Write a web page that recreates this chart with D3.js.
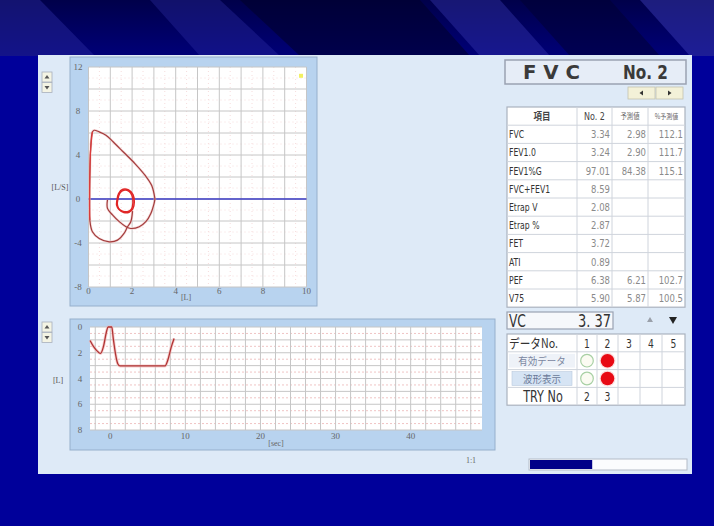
<!DOCTYPE html>
<html><head><meta charset="utf-8">
<script src="https://cdn.jsdelivr.net/npm/d3@7"></script>
<style>
html,body{margin:0;padding:0;background:#00009a;}
svg{display:block;}
</style></head><body>
<svg id="c" width="714" height="526"></svg>
<script>
// ---- flow–volume loop (volume in L, flow in L/s) ----
// maximal inspiration leading out of tidal breathing
const inspPreVolume = [2.02, 1.94, 1.79, 1.63, 1.33, 0.95, 0.49, 0.18, 0.06, 0.05, 0.05];
const inspPreFlow   = [-1.10, -2.06, -2.52, -3.13, -3.74, -3.89, -3.59, -2.98, -1.90, -0.80, 0.00];
// forced expiration
const expVolume = [0.05, 0.06, 0.10, 0.18, 0.26, 0.49, 0.80, 1.14, 1.60, 2.14, 2.60, 2.90, 3.05];
const expFlow   = [0.00, 2.00, 4.60, 6.10, 6.25, 6.10, 5.80, 5.18, 4.27, 3.20, 2.14, 1.22, 0.00];
// inspiration after the forced manoeuvre
const inspPostVolume = [3.05, 3.01, 2.86, 2.63, 2.33, 1.94, 1.72, 1.41, 1.10, 0.87, 0.87];
const inspPostFlow   = [0.00, -0.39, -1.31, -2.06, -2.52, -2.68, -2.52, -2.06, -1.45, -0.85, -0.08];
// tidal breathing loops
const tidal1Volume = [1.30, 1.38, 1.58, 1.84, 2.04, 2.10, 2.03, 1.86, 1.62, 1.40, 1.29, 1.30];
const tidal1Flow   = [-0.20, 0.50, 0.88, 0.82, 0.40, -0.30, -0.90, -1.20, -1.22, -0.95, -0.55, -0.20];
const tidal2Volume = [1.34, 1.44, 1.62, 1.86, 2.00, 2.04, 1.96, 1.78, 1.56, 1.38, 1.32, 1.34];
const tidal2Flow   = [-0.10, 0.55, 0.80, 0.70, 0.30, -0.35, -0.95, -1.15, -1.10, -0.85, -0.45, -0.10];

// ---- volume–time curve ----
const vtTime   = [-2.7, -2.2, -1.6, -1.3, -0.9, -0.5, -0.3, 0.2, 0.4, 0.7, 1.0, 1.3, 4.0, 7.3, 7.7, 8.1, 8.5];
const vtVolume = [1.05, 1.55, 1.95, 2.05, 1.50, 0.35, 0.00, 0.00, 0.90, 2.10, 2.85, 3.02, 3.02, 3.02, 2.50, 1.60, 0.90];

// ---- axis ticks ----
const fvFlowTicks = [12, 8, 4, 0, -4, -8];
const fvVolumeTicks = [0, 2, 4, 6, 8, 10];
const vtVolumeTicks = [0, 2, 4, 6, 8];
const vtTimeTicks = [0, 10, 20, 30, 40];

// ---- result table ----
const tableHeader = ["項目", "No. 2", "予測値", "%予測値"];
const rowLabels   = ["FVC", "FEV1.0", "FEV1%G", "FVC+FEV1", "Etrap V", "Etrap %", "FET", "ATI", "PEF", "V75"];
const measured    = ["3.34", "3.24", "97.01", "8.59", "2.08", "2.87", "3.72", "0.89", "6.38", "5.90"];
const predicted   = ["2.98", "2.90", "84.38", "", "", "", "", "", "6.21", "5.87"];
const percentPred = ["112.1", "111.7", "115.1", "", "", "", "", "", "102.7", "100.5"];
const vcLabel = "VC", vcValue = "3. 37";

// ---- trial selector ----
const trialNumbers = ["1", "2", "3", "4", "5"];
const trialValid   = [1, 2, 0, 0, 0];   // 1 = hollow, 2 = filled, 0 = none
const trialShown   = [1, 2, 0, 0, 0];
const trialTry     = ["2", "3", "", "", ""];
const progress = 0.4;

const svg = d3.select("#c");
const defs = svg.append("defs");

// ---------- slide background ----------
const gTop = defs.append("linearGradient").attr("id", "topg").attr("x1", 0).attr("y1", 0).attr("x2", 0).attr("y2", 1);
gTop.append("stop").attr("offset", 0).attr("stop-color", "#00004a");
gTop.append("stop").attr("offset", 1).attr("stop-color", "#000078");
svg.append("rect").attr("width", 714).attr("height", 526).attr("fill", "#00009a");
svg.append("rect").attr("width", 714).attr("height", 56).attr("fill", "url(#topg)");
const bands = [
  {pts: [[0,0],[40,0],[95,56],[0,56]], c: "#2a2aa0", o: 0.45},
  {pts: [[150,0],[220,0],[280,56],[200,56]], c: "#3030a8", o: 0.35},
  {pts: [[240,0],[420,0],[470,56],[300,56]], c: "#000028", o: 0.55},
  {pts: [[430,0],[500,0],[550,56],[480,56]], c: "#3a3ab4", o: 0.4},
  {pts: [[520,0],[610,0],[660,56],[570,56]], c: "#000030", o: 0.5},
  {pts: [[640,0],[714,0],[714,56],[690,56]], c: "#4040bc", o: 0.45}
];
svg.selectAll(".band").data(bands).join("path")
  .attr("d", d => "M" + d.pts.join("L") + "Z")
  .attr("fill", d => d.c).attr("opacity", d => d.o);

// ---------- application panel ----------
svg.append("rect").attr("x", 38).attr("y", 55).attr("width", 654).attr("height", 419)
  .attr("fill", "#deeaf7");

const tickFont = "'Liberation Serif','DejaVu Serif',serif";
const narrow = "'Liberation Sans Narrow','DejaVu Sans Condensed','Noto Sans CJK JP',sans-serif";
const jp = "'Noto Sans CJK JP',sans-serif";

// text squeezed horizontally, as drawn by the instrument's narrow font
function narrowText(g, x, y, str, opts) {
  const o = Object.assign({size: 10, fill: "#333", anchor: "start", sx: 0.85, family: narrow, weight: "normal"}, opts || {});
  return g.append("text").attr("transform", `translate(${x},${y}) scale(${o.sx},1)`)
    .attr("text-anchor", o.anchor).attr("font-family", o.family).attr("font-size", o.size)
    .attr("font-weight", o.weight).attr("fill", o.fill).text(str);
}

function spinButtons(x, y) {
  const g = svg.append("g");
  [0, 1].forEach(i => {
    g.append("rect").attr("x", x).attr("y", y + i * 10.5).attr("width", 10).attr("height", 10)
      .attr("fill", "#f4f4e4").attr("stroke", "#a8b0bc").attr("stroke-width", 0.8);
  });
  g.append("path").attr("d", `M${x+5},${y+3}L${x+7.5},${y+6.5}L${x+2.5},${y+6.5}Z`).attr("fill", "#555");
  g.append("path").attr("d", `M${x+5},${y+17.5}L${x+7.5},${y+14}L${x+2.5},${y+14}Z`).attr("fill", "#555");
}

// ---------- flow–volume chart ----------
const xV = d3.scaleLinear().domain([0, 10]).range([88.5, 306.5]);
const yF = d3.scaleLinear().domain([-8, 12]).range([287, 67]);

svg.append("rect").attr("x", 70).attr("y", 57).attr("width", 247).attr("height", 249)
  .attr("fill", "#b8d3ef").attr("stroke", "#96afcc").attr("stroke-width", 1);
svg.append("rect").attr("x", xV(0)).attr("y", yF(12)).attr("width", xV(10) - xV(0)).attr("height", yF(-8) - yF(12))
  .attr("fill", "#ffffff");

const fvGrid = svg.append("g");
fvGrid.selectAll(".mvx").data(d3.range(0.5, 10, 1)).join("line")
  .attr("x1", d => xV(d)).attr("x2", d => xV(d)).attr("y1", yF(12)).attr("y2", yF(-8))
  .attr("stroke", "#f6dcdc").attr("stroke-dasharray", "1,3");
fvGrid.selectAll(".mhy").data(d3.range(-7, 12, 2)).join("line")
  .attr("y1", d => yF(d)).attr("y2", d => yF(d)).attr("x1", xV(0)).attr("x2", xV(10))
  .attr("stroke", "#f6dcdc").attr("stroke-dasharray", "1,3");
fvGrid.selectAll(".vx").data(d3.range(0, 11, 1)).join("line")
  .attr("x1", d => xV(d)).attr("x2", d => xV(d)).attr("y1", yF(12)).attr("y2", yF(-8))
  .attr("stroke", "#c6c6c6");
fvGrid.selectAll(".hy").data(d3.range(-8, 13, 2)).join("line")
  .attr("y1", d => yF(d)).attr("y2", d => yF(d)).attr("x1", xV(0)).attr("x2", xV(10))
  .attr("stroke", "#c6c6c6");

// zero-flow baseline
svg.append("line").attr("x1", xV(0)).attr("x2", xV(10)).attr("y1", yF(0)).attr("y2", yF(0))
  .attr("stroke", "#3a3ac4").attr("stroke-width", 1.4);
// marker in the top-right corner of the plot
svg.append("rect").attr("x", xV(9.75) - 2).attr("y", yF(11.2) - 2).attr("width", 4).attr("height", 4)
  .attr("fill", "#f2f060");

const fvLine = d3.line().x(d => xV(d[0])).y(d => yF(d[1])).curve(d3.curveCatmullRom.alpha(0.5));
const zip = (a, b) => a.map((v, i) => [v, b[i]]);
const fvG = svg.append("g").attr("fill", "none").attr("stroke-linejoin", "round");
const fvParts = [[inspPreVolume, inspPreFlow], [expVolume, expFlow], [inspPostVolume, inspPostFlow]];
fvParts.forEach(([v, f]) => {
  fvG.append("path").attr("d", fvLine(zip(v, f))).attr("stroke", "#f2c2c2").attr("stroke-width", 2.6).attr("opacity", 0.6);
});
fvParts.forEach(([v, f]) => {
  fvG.append("path").attr("d", fvLine(zip(v, f))).attr("stroke", "#a23c3c").attr("stroke-width", 1.2);
});
// steep rising limb drawn brighter
fvG.append("path").attr("d", fvLine(zip(inspPreVolume.slice(8), inspPreFlow.slice(8)).concat(zip(expVolume.slice(1, 4), expFlow.slice(1, 4)))))
  .attr("stroke", "#dc3c3c").attr("stroke-width", 1.2);
const tidalLine = d3.line().x(d => xV(d[0])).y(d => yF(d[1])).curve(d3.curveCatmullRomClosed.alpha(0.5));
[[tidal1Volume, tidal1Flow], [tidal2Volume, tidal2Flow]].forEach(([v, f]) => {
  fvG.append("path").attr("d", tidalLine(zip(v, f).slice(0, -1))).attr("stroke", "#e02626").attr("stroke-width", 1.5);
});

const fvTicks = svg.append("g").attr("font-family", tickFont).attr("font-size", 9).attr("fill", "#666");
fvTicks.selectAll(".ty").data(fvFlowTicks).join("text")
  .attr("x", 78).attr("y", d => yF(d) + 3).attr("text-anchor", "middle").text(d => d);
fvTicks.selectAll(".tx").data(fvVolumeTicks).join("text")
  .attr("x", d => xV(d)).attr("y", 294).attr("text-anchor", "middle").text(d => d);
fvTicks.append("text").attr("x", 186).attr("y", 300).attr("text-anchor", "middle").attr("font-size", 8).text("[L]");
svg.append("text").attr("x", 60).attr("y", 190).attr("text-anchor", "middle")
  .attr("font-family", tickFont).attr("font-size", 8).attr("fill", "#555").text("[L/S]");
spinButtons(42, 72);

// ---------- volume–time chart ----------
const xT = d3.scaleLinear().domain([-2.7, 49.5]).range([90, 482]);
const yV = d3.scaleLinear().domain([0, 8]).range([327, 430]);

svg.append("rect").attr("x", 70).attr("y", 319).attr("width", 425).attr("height", 131)
  .attr("fill", "#b8d3ef").attr("stroke", "#96afcc").attr("stroke-width", 1);
svg.append("rect").attr("x", xT(-2.7)).attr("y", yV(0)).attr("width", xT(49.5) - xT(-2.7)).attr("height", yV(8) - yV(0))
  .attr("fill", "#ffffff");
const vtGrid = svg.append("g");
vtGrid.selectAll(".mh").data(d3.range(0.5, 8, 1)).join("line")
  .attr("y1", d => yV(d)).attr("y2", d => yV(d)).attr("x1", xT(-2.7)).attr("x2", xT(49.5))
  .attr("stroke", "#f0c4c4").attr("stroke-dasharray", "2,2");
vtGrid.selectAll(".vv").data(d3.range(-2, 50, 2)).join("line")
  .attr("x1", d => xT(d)).attr("x2", d => xT(d)).attr("y1", yV(0)).attr("y2", yV(8))
  .attr("stroke", "#c6c6c6");
vtGrid.selectAll(".hh").data(d3.range(0, 9, 1)).join("line")
  .attr("y1", d => yV(d)).attr("y2", d => yV(d)).attr("x1", xT(-2.7)).attr("x2", xT(49.5))
  .attr("stroke", "#c6c6c6");

const vtLine = d3.line().x(d => xT(d[0])).y(d => yV(d[1])).curve(d3.curveMonotoneX);
const vtData = zip(vtTime, vtVolume);
svg.append("path").attr("d", vtLine(vtData)).attr("fill", "none").attr("stroke", "#f2b8b8").attr("stroke-width", 3).attr("opacity", 0.7);
svg.append("path").attr("d", vtLine(vtData)).attr("fill", "none").attr("stroke", "#b03434").attr("stroke-width", 1.3);

const vtTicks = svg.append("g").attr("font-family", tickFont).attr("font-size", 9).attr("fill", "#666");
vtTicks.selectAll(".ty").data(vtVolumeTicks).join("text")
  .attr("x", 80).attr("y", d => yV(d) + 3).attr("text-anchor", "middle").text(d => d);
vtTicks.selectAll(".tx").data(vtTimeTicks).join("text")
  .attr("x", d => xT(d)).attr("y", 439).attr("text-anchor", "middle").text(d => d);
vtTicks.append("text").attr("x", 276).attr("y", 446).attr("text-anchor", "middle").attr("font-size", 8).text("[sec]");
svg.append("text").attr("x", 58).attr("y", 383).attr("text-anchor", "middle")
  .attr("font-family", tickFont).attr("font-size", 8).attr("fill", "#555").text("[L]");
spinButtons(42, 322);
svg.append("text").attr("x", 471).attr("y", 463).attr("text-anchor", "middle")
  .attr("font-family", tickFont).attr("font-size", 8).attr("fill", "#666").text("1:1");

// ---------- title box ----------
svg.append("rect").attr("x", 505).attr("y", 60).attr("width", 181).attr("height", 24)
  .attr("fill", "#e6edf7").attr("stroke", "#9aa2b2").attr("stroke-width", 1.5);
svg.append("text").attr("x", 523).attr("y", 79).attr("font-family", narrow).attr("font-weight", "bold")
  .attr("font-size", 20).attr("fill", "#3a3a3a").attr("textLength", 57).attr("lengthAdjust", "spacingAndGlyphs").text("F V C");
svg.append("text").attr("x", 623).attr("y", 79).attr("font-family", narrow).attr("font-weight", "bold")
  .attr("font-size", 20).attr("fill", "#3a3a3a").attr("textLength", 45).attr("lengthAdjust", "spacingAndGlyphs").text("No. 2");
[[628, "L"], [656, "R"]].forEach(([x, dir]) => {
  svg.append("rect").attr("x", x).attr("y", 87).attr("width", 27).attr("height", 12)
    .attr("fill", "#f3f1d8").attr("stroke", "#c4c4b0").attr("stroke-width", 0.8);
  const cx = x + 13.5, cy = 93;
  svg.append("path").attr("d", dir === "L" ? `M${cx-2},${cy}L${cx+1.5},${cy-2.5}L${cx+1.5},${cy+2.5}Z` : `M${cx+2},${cy}L${cx-1.5},${cy-2.5}L${cx-1.5},${cy+2.5}Z`)
    .attr("fill", "#333");
});

// ---------- result table ----------
const colX = [507, 577, 612, 648, 685];
const rowH = 18.2, tTop = 107;
const nRows = rowLabels.length + 1;
svg.append("rect").attr("x", colX[0]).attr("y", tTop).attr("width", colX[4] - colX[0]).attr("height", nRows * rowH)
  .attr("fill", "#ffffff").attr("stroke", "#aab2be").attr("stroke-width", 1.2);
const tbl = svg.append("g");
tbl.selectAll(".rl").data(d3.range(1, nRows)).join("line")
  .attr("x1", colX[0]).attr("x2", colX[4]).attr("y1", d => tTop + d * rowH).attr("y2", d => tTop + d * rowH)
  .attr("stroke", "#cfd4dc");
tbl.selectAll(".cl").data(colX.slice(1, 4)).join("line")
  .attr("x1", d => d).attr("x2", d => d).attr("y1", tTop).attr("y2", tTop + nRows * rowH)
  .attr("stroke", "#cfd4dc");
// header
narrowText(tbl, (colX[0] + colX[1]) / 2, tTop + 13, tableHeader[0], {family: jp, size: 10, anchor: "middle", weight: "bold", fill: "#444"});
narrowText(tbl, (colX[1] + colX[2]) / 2, tTop + 13, tableHeader[1], {size: 10.5, anchor: "middle", fill: "#444"});
narrowText(tbl, (colX[2] + colX[3]) / 2, tTop + 12, tableHeader[2], {family: jp, size: 7.5, anchor: "middle", fill: "#666"});
narrowText(tbl, (colX[3] + colX[4]) / 2, tTop + 12, tableHeader[3], {family: jp, size: 7, anchor: "middle", fill: "#666"});
// body
rowLabels.forEach((lab, i) => {
  const y = tTop + (i + 1) * rowH + 13;
  narrowText(tbl, colX[0] + 2, y, lab, {size: 11, fill: "#333", sx: 0.78});
  [measured[i], predicted[i], percentPred[i]].forEach((v, j) => {
    if (!v) return;
    narrowText(tbl, colX[j + 2] - 2, y, v, {size: 10.5, anchor: "end", fill: "#8a8a8a", sx: 0.9});
  });
});

// ---------- VC line ----------
svg.append("rect").attr("x", 507).attr("y", 312).attr("width", 106).attr("height", 17)
  .attr("fill", "#f6f8fb").attr("stroke", "#9aa2b2").attr("stroke-width", 1.2);
narrowText(svg, 509, 327, vcLabel, {size: 17, sx: 0.8});
narrowText(svg, 611, 327, vcValue, {size: 17, anchor: "end", sx: 0.85});
svg.append("path").attr("d", "M650,317L653,322L647,322Z").attr("fill", "#9aa0aa");
svg.append("path").attr("d", "M673,324L677,317L669,317Z").attr("fill", "#222");

// ---------- trial selector ----------
const sCols = [507, 577, 597, 618, 640, 662, 685];
const sTop = 334, sRow = 17.8;
svg.append("rect").attr("x", sCols[0]).attr("y", sTop).attr("width", sCols[6] - sCols[0]).attr("height", 4 * sRow)
  .attr("fill", "#ffffff").attr("stroke", "#aab2be").attr("stroke-width", 1.2);
const sel = svg.append("g");
sel.selectAll(".rl").data([1, 2, 3]).join("line")
  .attr("x1", sCols[0]).attr("x2", sCols[6]).attr("y1", d => sTop + d * sRow).attr("y2", d => sTop + d * sRow)
  .attr("stroke", "#cfd4dc");
sel.selectAll(".cl").data(sCols.slice(1, 6)).join("line")
  .attr("x1", d => d).attr("x2", d => d).attr("y1", sTop).attr("y2", sTop + 4 * sRow)
  .attr("stroke", "#cfd4dc");
// row labels
narrowText(sel, 509, sTop + 14, "データNo.", {family: jp, size: 13, sx: 0.82});
sel.append("rect").attr("x", 509).attr("y", sTop + sRow + 2).attr("width", 66).attr("height", sRow - 4)
  .attr("fill", "#eef2f8");
narrowText(sel, 542, sTop + sRow + 13, "有効データ", {family: jp, size: 10, anchor: "middle", fill: "#7a86a0", sx: 0.95});
sel.append("rect").attr("x", 512).attr("y", sTop + 2 * sRow + 2).attr("width", 60).attr("height", sRow - 4)
  .attr("fill", "#d6e4f4").attr("stroke", "#b8c8dc").attr("stroke-width", 0.6);
narrowText(sel, 542, sTop + 2 * sRow + 13, "波形表示", {family: jp, size: 10, anchor: "middle", fill: "#6a7a98", sx: 0.95});
narrowText(sel, 543, sTop + 3 * sRow + 15, "TRY No", {size: 16, anchor: "middle", sx: 0.78});
// columns
trialNumbers.forEach((n, i) => {
  const cx = (sCols[i + 1] + sCols[i + 2]) / 2;
  narrowText(sel, cx, sTop + 13.5, n, {size: 12, anchor: "middle", sx: 0.85});
  [trialValid[i], trialShown[i]].forEach((s, r) => {
    const cy = sTop + (r + 1.5) * sRow;
    if (s === 1) sel.append("circle").attr("cx", cx).attr("cy", cy).attr("r", 6.3)
      .attr("fill", "#fbfbf2").attr("stroke", "#a8d0a4").attr("stroke-width", 1.2);
    if (s === 2) {
      sel.append("circle").attr("cx", cx).attr("cy", cy).attr("r", 8).attr("fill", "#f8c8c8").attr("opacity", 0.6);
      sel.append("circle").attr("cx", cx).attr("cy", cy).attr("r", 6.8).attr("fill", "#e80a14");
    }
  });
  if (trialTry[i]) narrowText(sel, cx, sTop + 3 * sRow + 14, trialTry[i], {size: 12, anchor: "middle", sx: 0.85});
});

// ---------- progress bar ----------
const px = d3.scaleLinear().domain([0, 1]).range([529, 687]);
svg.append("rect").attr("x", px(0)).attr("y", 459).attr("width", px(1) - px(0)).attr("height", 11)
  .attr("fill", "#fbfcfe").attr("stroke", "#b4bcc8").attr("stroke-width", 1);
svg.append("rect").attr("x", px(0) + 1).attr("y", 460).attr("width", px(progress) - px(0) - 1).attr("height", 9)
  .attr("fill", "#000088");
</script>
</body></html>
